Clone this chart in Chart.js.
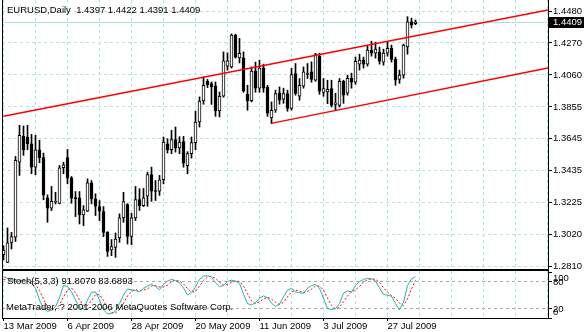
<!DOCTYPE html>
<html>
<head>
<meta charset="utf-8">
<script src="https://cdn.jsdelivr.net/npm/chart.js@4.4.1/dist/chart.umd.min.js"></script>
<style>
  body { margin: 0; background: #fff; }
  #wrap { position: relative; width: 584px; height: 332px; }
  canvas { position: absolute; left: 0; }
  #main { top: 0; }
  #stoch { top: 270px; }
</style>
</head>
<body>
<div id="wrap">
  <canvas id="main" width="584" height="270"></canvas>
  <canvas id="stoch" width="584" height="62"></canvas>
</div>
<script>
const symbol = 'EURUSD,Daily';

// daily bars, 13 Mar 2009 .. 5 Aug 2009
const opens = [
  1.2888, 1.2838, 1.2969, 1.3002, 1.3493, 1.3661, 1.3657, 1.3613, 1.3460, 1.3574,
  1.3522, 1.3260, 1.3192, 1.3231, 1.3224, 1.3456, 1.3522, 1.3391, 1.3257, 1.3260,
  1.3148, 1.3172, 1.3358, 1.3253, 1.3203, 1.3170, 1.3034, 1.2919, 1.2936, 1.2998,
  1.3129, 1.3216, 1.3008, 1.3129, 1.3249, 1.3209, 1.3270, 1.3412, 1.3303, 1.3303,
  1.3378, 1.3613, 1.3574, 1.3640, 1.3585, 1.3627, 1.3469, 1.3548, 1.3620, 1.3755,
  1.3892, 1.4021, 1.4006, 1.3991, 1.3827, 1.3923, 1.4120, 1.4115, 1.4323, 1.4174,
  1.4174, 1.3936, 1.3894, 1.4087, 1.3976, 1.4107, 1.3982, 1.3781, 1.3832, 1.3945,
  1.3904, 1.3941, 1.3843, 1.4072, 1.3923, 1.3989, 1.4070, 1.4082, 1.4028, 1.4185,
  1.3948, 1.3951, 1.3974, 1.3870, 1.3864, 1.4021, 1.3943, 1.4041, 1.4015, 1.4133,
  1.4159, 1.4133, 1.4225, 1.4205, 1.4211, 1.4146, 1.4205, 1.4236, 1.4164, 1.4033,
  1.4061, 1.4246, 1.4410, 1.4397
];
const highs = [
  1.2947, 1.3063, 1.3034, 1.3530, 1.3733, 1.3729, 1.3733, 1.3674, 1.3668, 1.3635,
  1.3552, 1.3279, 1.3334, 1.3296, 1.3471, 1.3493, 1.3576, 1.3399, 1.3301, 1.3301,
  1.3209, 1.3384, 1.3373, 1.3286, 1.3242, 1.3203, 1.3039, 1.2987, 1.3030, 1.3155,
  1.3296, 1.3222, 1.3159, 1.3334, 1.3319, 1.3321, 1.3427, 1.3460, 1.3373, 1.3406,
  1.3657, 1.3646, 1.3701, 1.3722, 1.3659, 1.3661, 1.3561, 1.3657, 1.3825, 1.3919,
  1.4050, 1.4033, 1.4017, 1.4017, 1.3951, 1.4213, 1.4207, 1.4330, 1.4329, 1.4301,
  1.4213, 1.3995, 1.4115, 1.4146, 1.4159, 1.4133, 1.3995, 1.3886, 1.3963, 1.3984,
  1.3976, 1.3963, 1.4105, 1.4137, 1.4039, 1.4115, 1.4137, 1.4148, 1.4203, 1.4205,
  1.4039, 1.4028, 1.4028, 1.3943, 1.4039, 1.4028, 1.4061, 1.4074, 1.4179, 1.4198,
  1.4179, 1.4251, 1.4283, 1.4277, 1.4244, 1.4231, 1.4277, 1.4257, 1.4179, 1.4094,
  1.4264, 1.4443, 1.4434, 1.4422
];
const lows = [
  1.2854, 1.2836, 1.2926, 1.2975, 1.3406, 1.3537, 1.3574, 1.3417, 1.3410, 1.3489,
  1.3247, 1.3100, 1.3177, 1.3220, 1.3220, 1.3417, 1.3351, 1.3224, 1.3137, 1.3089,
  1.3078, 1.3170, 1.3220, 1.3144, 1.3111, 1.3006, 1.2877, 1.2882, 1.2871, 1.2969,
  1.3100, 1.2958, 1.2954, 1.3111, 1.3177, 1.3203, 1.3205, 1.3237, 1.3242, 1.3275,
  1.3351, 1.3552, 1.3548, 1.3558, 1.3548, 1.3460, 1.3417, 1.3519, 1.3574, 1.3722,
  1.3871, 1.3980, 1.3870, 1.3792, 1.3788, 1.3917, 1.4094, 1.4107, 1.4172, 1.4141,
  1.3949, 1.3832, 1.3886, 1.3949, 1.3949, 1.3949, 1.3792, 1.3744, 1.3818, 1.3871,
  1.3877, 1.3825, 1.3832, 1.3930, 1.3897, 1.3976, 1.4039, 1.4015, 1.4021, 1.3936,
  1.3923, 1.3875, 1.3853, 1.3832, 1.3853, 1.3877, 1.3930, 1.3976, 1.4002, 1.4094,
  1.4107, 1.4120, 1.4185, 1.4172, 1.4133, 1.4126, 1.4185, 1.4146, 1.3995, 1.4008,
  1.4041, 1.4198, 1.4369, 1.4391
];
const closes = [
  1.2919, 1.2965, 1.3006, 1.3504, 1.3668, 1.3574, 1.3613, 1.3460, 1.3574, 1.3522,
  1.3279, 1.3192, 1.3237, 1.3233, 1.3456, 1.3476, 1.3388, 1.3257, 1.3255, 1.3148,
  1.3181, 1.3358, 1.3253, 1.3205, 1.3172, 1.3034, 1.2910, 1.2941, 1.2991, 1.3129,
  1.3235, 1.3008, 1.3129, 1.3249, 1.3209, 1.3260, 1.3412, 1.3303, 1.3301, 1.3378,
  1.3624, 1.3574, 1.3640, 1.3585, 1.3624, 1.3486, 1.3548, 1.3620, 1.3755, 1.3892,
  1.3995, 1.3999, 1.3984, 1.3827, 1.3923, 1.4154, 1.4154, 1.4323, 1.4178, 1.4203,
  1.3958, 1.3892, 1.4087, 1.3976, 1.4107, 1.3976, 1.3812, 1.3832, 1.3941, 1.3897,
  1.3941, 1.3843, 1.4065, 1.3941, 1.3995, 1.4082, 1.4065, 1.4033, 1.4196, 1.3956,
  1.3974, 1.3969, 1.3864, 1.3880, 1.4021, 1.3930, 1.4041, 1.4015, 1.4152, 1.4159,
  1.4133, 1.4225, 1.4205, 1.4231, 1.4152, 1.4205, 1.4236, 1.4164, 1.4028, 1.4061,
  1.4257, 1.4410, 1.4388, 1.4409
];

// Stochastic(5,3,3): main (%K) and signal (%D)
const stochK = [
  92, 88, 85, 81, 82, 84, 81, 77, 66, 40,
  21, 15, 17, 25, 45, 72, 70, 58, 40, 23,
  20, 40, 57, 58, 40, 18, 9, 10, 15, 32,
  51, 64, 63, 61, 58, 66, 71, 75, 70, 63,
  75, 82, 86, 83, 78, 67, 51, 57, 69, 86,
  93, 94, 91, 78, 70, 72, 81, 84, 82, 77,
  53, 32, 29, 34, 44, 49, 45, 33, 26, 31,
  47, 62, 66, 58, 56, 55, 66, 72, 75, 66,
  44, 21, 19, 21, 32, 55, 60, 58, 72, 81,
  86, 88, 87, 82, 67, 52, 51, 48, 32, 18,
  35, 72, 87, 91.8070
];
const stochD = [
  85, 88, 88, 85, 83, 82, 82, 81, 75, 61,
  42, 25, 18, 19, 29, 47, 62, 67, 56, 40,
  28, 28, 39, 52, 52, 39, 22, 12, 11, 19,
  33, 49, 59, 63, 61, 62, 65, 71, 72, 69,
  69, 73, 81, 84, 82, 76, 65, 58, 59, 71,
  83, 91, 93, 88, 80, 73, 74, 79, 82, 81,
  71, 54, 38, 32, 36, 42, 46, 42, 35, 30,
  35, 47, 58, 62, 60, 56, 59, 64, 71, 71,
  62, 44, 28, 20, 24, 36, 49, 58, 63, 70,
  80, 85, 87, 86, 79, 67, 57, 50, 44, 33,
  28, 42, 65, 83.6893
];

const priceTicks = ['1.4480', '1.4270', '1.4060', '1.3855', '1.3645', '1.3435', '1.3225', '1.3020', '1.2810'];
const dateTicks = ['13 Mar 2009', '6 Apr 2009', '28 Apr 2009', '20 May 2009', '11 Jun 2009', '3 Jul 2009', '27 Jul 2009'];
const stochTicks = [100, 80, 20, 0];
const stochLevels = [80, 20];

// trend channel, [bar, price] end points
const upperChannel = [[0, 1.3793], [136.1, 1.4486]];
const lowerChannel = [[66.9, 1.3746], [136.1, 1.4107]];

// ---- layout ----
const FONT = { family: 'Liberation Sans', size: 9.5 };
const GRID = '#aee4e4';
const barsMin = -0.375, barsMax = 136.125;     // 4 px per bar, 546 px wide
const priceStep = 0.020875, stepPx = 31.96;     // grid spacing
const firstTickPx = 11, mainBottom = 269;
const priceMax = 1.4480 + firstTickPx / stepPx * priceStep;
const priceMin = 1.4480 - (mainBottom - firstTickPx) / stepPx * priceStep;

const gridBars = [];
for (let b = 0; b <= 136; b += 8) gridBars.push(b);

const last = closes.length - 1;
const fmt = v => v.toFixed(4);

function isDateTick(v) {
  return v % 16 === 0 && v / 16 < dateTicks.length;
}

const mainDecor = {
  id: 'mainDecor',
  beforeDatasetsDraw(chart) {
    const { ctx, chartArea: a, scales } = chart;
    const y = Math.round(scales.y.getPixelForValue(closes[last])) + 0.5;
    ctx.save();
    ctx.strokeStyle = GRID;
    ctx.lineWidth = 1;
    ctx.setLineDash([]);
    ctx.beginPath();
    ctx.moveTo(a.left, y);
    ctx.lineTo(a.right, y);
    ctx.stroke();
    ctx.restore();
  },
  afterDraw(chart) {
    const { ctx, chartArea: a, scales } = chart;
    ctx.save();
    ctx.setLineDash([]);
    ctx.strokeStyle = '#000';
    ctx.lineWidth = 1;
    ctx.beginPath();
    ctx.moveTo(a.left + 0.5, 0);
    ctx.lineTo(a.left + 0.5, a.bottom + 0.5);
    ctx.lineTo(a.right + 0.5, a.bottom + 0.5);
    ctx.lineTo(a.right + 0.5, 0);
    ctx.stroke();

    ctx.font = FONT.size + 'px ' + FONT.family;
    ctx.textBaseline = 'middle';
    ctx.fillStyle = '#000';
    ctx.fillText(symbol + '  ' + [opens[last], highs[last], lows[last], closes[last]].map(fmt).join(' '), 7, 10);

    // current price label on the axis
    const y = Math.round(scales.y.getPixelForValue(closes[last]));
    ctx.fillRect(a.right + 1, y - 5, 584 - a.right - 1, 11);
    ctx.fillStyle = '#fff';
    ctx.fillText(fmt(closes[last]), a.right + 5, y + 0.5);
    ctx.restore();
  }
};

new Chart(document.getElementById('main'), {
  type: 'bar',
  data: {
    datasets: [
      {
        type: 'line',
        data: upperChannel.map(([x, y]) => ({ x, y })),
        borderColor: '#ff0000',
        borderWidth: 1.5,
        pointRadius: 0,
        order: 0
      },
      {
        type: 'line',
        data: lowerChannel.map(([x, y]) => ({ x, y })),
        borderColor: '#ff0000',
        borderWidth: 1.5,
        pointRadius: 0,
        order: 0
      },
      {
        // candle bodies
        data: opens.map((o, i) => ({ x: i, y: [o, closes[i]] })),
        backgroundColor: opens.map((o, i) => closes[i] >= o ? '#ffffff' : '#000000'),
        borderColor: '#000000',
        borderWidth: 1,
        borderSkipped: false,
        barThickness: 3,
        minBarLength: 1,
        grouped: false,
        order: 1
      },
      {
        // wicks
        data: highs.map((h, i) => ({ x: i, y: [lows[i], h] })),
        backgroundColor: '#000000',
        borderWidth: 0,
        barThickness: 1,
        grouped: false,
        order: 2
      }
    ]
  },
  options: {
    responsive: false,
    animation: false,
    events: [],
    layout: { padding: { left: 2, top: 0, right: 0, bottom: 1 } },
    plugins: { legend: { display: false }, tooltip: { enabled: false } },
    scales: {
      x: {
        type: 'linear',
        min: barsMin,
        max: barsMax,
        offset: false,
        afterBuildTicks: s => { s.ticks = gridBars.map(v => ({ value: v })); },
        afterFit: s => { s.height = 0; s.paddingLeft = 0; s.paddingRight = 0; },
        ticks: { display: false },
        grid: { color: GRID, drawTicks: false, offset: false },
        border: { display: false, dash: [3, 3] }
      },
      y: {
        position: 'right',
        min: priceMin,
        max: priceMax,
        afterBuildTicks: s => { s.ticks = priceTicks.map((t, k) => ({ value: 1.4480 - k * priceStep })); },
        afterFit: s => { s.width = 36; s.paddingTop = 0; s.paddingBottom = 0; },
        ticks: { callback: (v, i) => priceTicks[i], padding: 1, color: '#000', font: FONT, autoSkip: false },
        grid: { color: GRID, tickColor: '#000', tickLength: 4 },
        border: { display: false, dash: [3, 3] }
      }
    }
  },
  plugins: [mainDecor]
});

const stochDecor = {
  id: 'stochDecor',
  afterDraw(chart) {
    const { ctx, chartArea: a, scales } = chart;
    ctx.save();
    ctx.setLineDash([]);
    ctx.strokeStyle = '#000';
    ctx.lineWidth = 1;
    ctx.strokeRect(a.left + 0.5, 0.5, a.right - a.left, a.bottom);
    ctx.font = FONT.size + 'px ' + FONT.family;
    ctx.textBaseline = 'middle';
    ctx.fillStyle = '#000';
    ctx.fillText('Stoch(5,3,3) ' + stochK[last].toFixed(4) + ' ' + stochD[last].toFixed(4), 7, 11.5);
    ctx.fillText('MetaTrader, ? 2001-2006 MetaQuotes Software Corp.', 6, 37.5);
    // level labels sit inside the window, so 100/80 and 20/0 run into each other
    stochTicks.forEach(v => {
      const y = Math.min(Math.max(scales.y.getPixelForValue(v), a.top + 7), a.bottom - 6);
      ctx.fillText(String(v), a.right + 5, y);
    });
    ctx.restore();
  }
};

new Chart(document.getElementById('stoch'), {
  type: 'line',
  data: {
    datasets: [
      {
        data: stochK.map((v, i) => ({ x: i, y: v })),
        borderColor: '#20b2aa',
        borderWidth: 1,
        pointRadius: 0,
        tension: 0
      },
      {
        data: stochD.map((v, i) => ({ x: i, y: v })),
        borderColor: '#ff0000',
        borderWidth: 1,
        borderDash: [2, 2],
        pointRadius: 0,
        tension: 0
      }
    ]
  },
  options: {
    responsive: false,
    animation: false,
    events: [],
    layout: { padding: { left: 2, top: 1, right: 0, bottom: 0 } },
    plugins: { legend: { display: false }, tooltip: { enabled: false } },
    scales: {
      x: {
        type: 'linear',
        min: barsMin,
        max: barsMax,
        offset: false,
        afterBuildTicks: s => { s.ticks = gridBars.map(v => ({ value: v })); },
        afterFit: s => { s.height = 14; s.paddingLeft = 0; s.paddingRight = 0; },
        ticks: {
          callback: v => isDateTick(v) ? dateTicks[v / 16] : '',
          align: 'start',
          autoSkip: false,
          maxRotation: 0,
          minRotation: 0,
          padding: 0,
          color: '#000',
          font: FONT
        },
        grid: {
          color: GRID,
          tickLength: 3,
          tickColor: c => c.tick && isDateTick(c.tick.value) ? '#000' : 'rgba(0,0,0,0)',
          offset: false
        },
        border: { display: false, dash: [3, 3] }
      },
      y: {
        position: 'right',
        min: 0,
        max: 104.44,
        afterBuildTicks: s => { s.ticks = stochTicks.map(v => ({ value: v })); },
        afterFit: s => { s.width = 36; s.paddingTop = 0; s.paddingBottom = 0; },
        ticks: { display: false },
        grid: {
          color: c => c.tick && stochLevels.includes(c.tick.value) ? '#a9a9a9' : 'rgba(0,0,0,0)',
          tickColor: '#000',
          tickLength: 4
        },
        border: { display: false, dash: [3, 3] }
      }
    }
  },
  plugins: [stochDecor]
});
</script>
</body>
</html>
